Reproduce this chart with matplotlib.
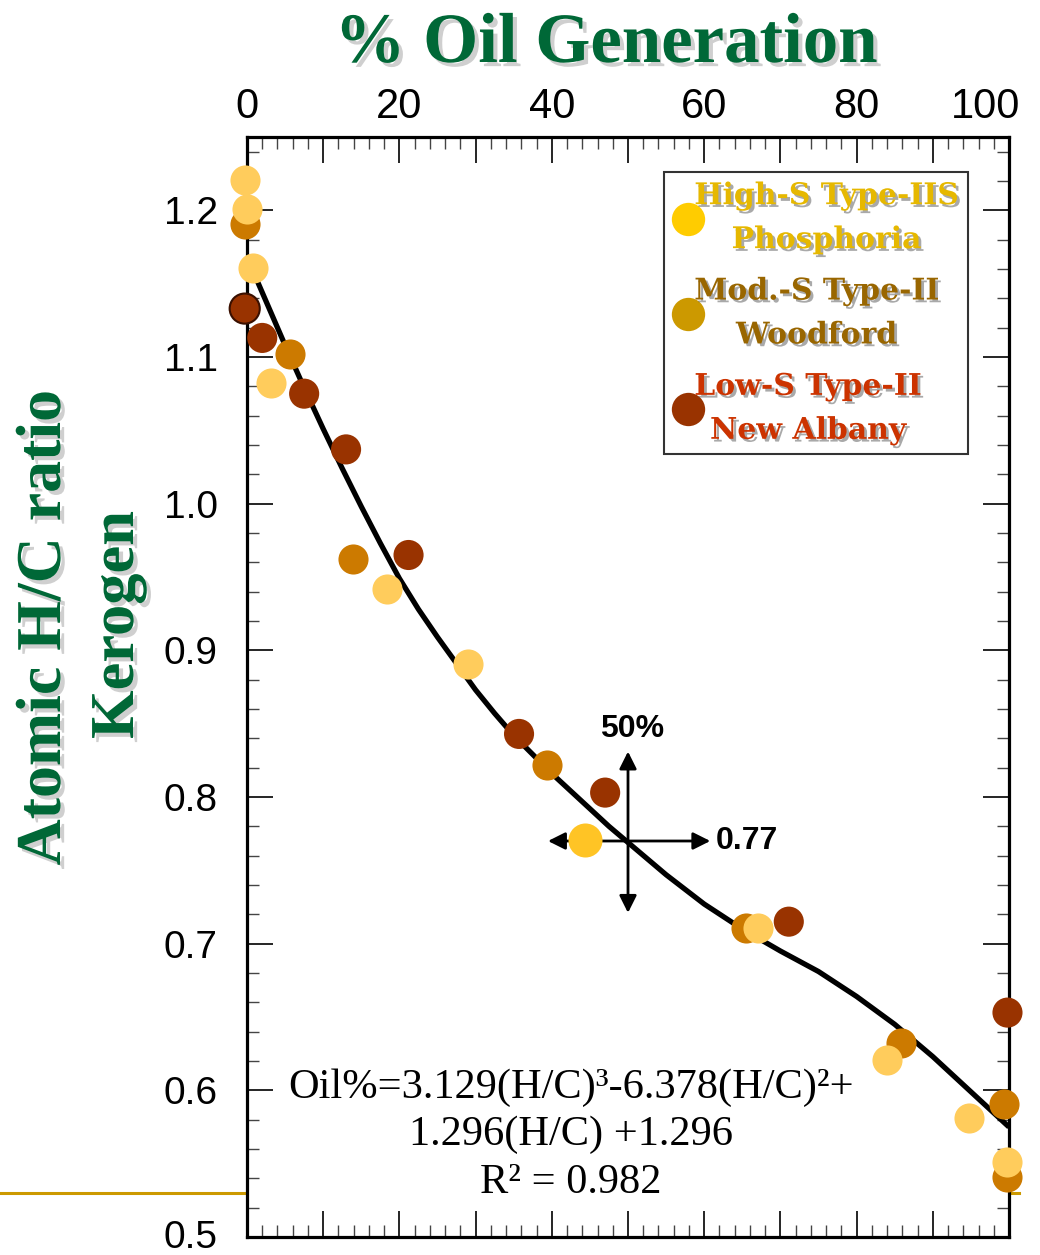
import numpy as np
import matplotlib
matplotlib.use("Agg")
import matplotlib.pyplot as plt
import matplotlib.patheffects as pe
import matplotlib.transforms as mtransforms
from matplotlib.lines import Line2D

# data: % oil generation vs kerogen atomic H/C
phos_x = [-0.3, 0.0, 0.75, 3.2, 18.4, 29.0, 67.1, 84.0, 94.7, 99.8]
phos_y = [1.221, 1.201, 1.161, 1.082, 0.942, 0.891, 0.711, 0.621, 0.581, 0.551]

wood_x = [-0.3, 5.7, 13.95, 39.4, 65.5, 85.8, 99.3, 99.8]
wood_y = [1.191, 1.102, 0.962, 0.822, 0.711, 0.632, 0.591, 0.541]

na_x = [-0.3, 2.0, 7.5, 13.0, 21.2, 35.7, 47.0, 71.1, 99.8]
na_y = [1.133, 1.113, 1.075, 1.037, 0.965, 0.843, 0.803, 0.715, 0.653]

hl_x = [44.4]
hl_y = [0.771]

# fitted curve
curve_x = [0, 2.5, 5, 7.5, 10, 12.5, 15, 17.5, 20, 22.5, 25, 27.5, 30, 32.5, 35,
           37.5, 40, 42.5, 45, 47.5, 50, 55, 60, 65, 70, 75, 80, 85, 90, 95, 100]
curve_y = [1.168, 1.138, 1.108, 1.079, 1.051, 1.024, 0.998, 0.973, 0.949, 0.928,
           0.909, 0.891, 0.873, 0.857, 0.842, 0.829, 0.816, 0.804, 0.792, 0.780,
           0.769, 0.747, 0.727, 0.710, 0.695, 0.681, 0.664, 0.645, 0.623, 0.599,
           0.575]

mid_x = 50
mid_y = 0.77

green = '#006837'
serif = ['Liberation Serif', 'DejaVu Serif']
sans = ['Liberation Sans', 'DejaVu Sans']

fig = plt.figure(figsize=(10.4, 12.55), dpi=100)
ax = fig.add_axes([0.2375, 0.01434, 0.7327, 0.8765])

# gold slide line behind the axes
fig.add_artist(Line2D([0, 0.98], [0.0494, 0.0494], color='#CC9900', lw=2.2,
                      transform=fig.transFigure, zorder=-1))

ax.plot(curve_x, curve_y, color='black', lw=3.8, zorder=3,
        solid_joinstyle='round', solid_capstyle='butt')

# 50% / 0.77 cross
for tip in [(mid_x, 0.831), (mid_x, 0.721), (39.5, mid_y), (60.8, mid_y)]:
    ax.annotate('', xy=tip, xytext=(mid_x, mid_y),
                arrowprops=dict(arrowstyle='-|>', color='black', lw=2,
                                mutation_scale=26, shrinkA=0, shrinkB=0),
                zorder=2)
ax.text(50.5, 0.836, '50%', fontsize=23, fontweight='bold', family=sans,
        ha='center', va='bottom')
ax.text(61.5, mid_y, '0.77', fontsize=23, fontweight='bold', family=sans,
        ha='left', va='center')

s = 470
edge = np.where(np.array(na_x) < 0, 1.5, 0)
ax.scatter(na_x, na_y, s=s, color='#993300', edgecolors='#3a1000',
           linewidths=edge, zorder=4, clip_on=False)
ax.scatter(wood_x, wood_y, s=s, color='#CC7A00', linewidths=0, zorder=5,
           clip_on=False)
ax.scatter(phos_x, phos_y, s=s, color='#FFCC5C', linewidths=0, zorder=6,
           clip_on=False)
ax.scatter(hl_x, hl_y, s=600, color='#FFC425', linewidths=0, zorder=6,
           clip_on=False)

ax.set_xlim(0, 100)
ax.set_ylim(0.5, 1.25)

xt = list(range(0, 101, 10))
ax.set_xticks(xt, [str(v) if v % 20 == 0 else '' for v in xt])
ax.set_xticks(np.arange(0, 101, 2), minor=True)
yt = np.round(np.arange(0.5, 1.21, 0.1), 1)
ax.set_yticks(yt, ['%.1f' % v for v in yt])
ax.set_yticks(np.arange(0.5, 1.25, 0.02), minor=True)

ax.xaxis.tick_top()
ax.tick_params(which='both', direction='in', top=True, bottom=True,
               left=True, right=True, labeltop=True, labelbottom=False)
ax.tick_params(which='major', length=19, width=1.2)
ax.tick_params(which='minor', length=8.5, width=1.0, color='#444444')
ax.tick_params(axis='x', which='major', labelsize=30, pad=7)
ax.tick_params(axis='y', which='major', labelsize=28, pad=21)
for lab in ax.get_xticklabels() + ax.get_yticklabels():
    lab.set_family(sans)
for sp in ax.spines.values():
    sp.set_linewidth(2.3)

# the "100" label sits a little left of its tick in the original
last = ax.xaxis.get_major_ticks()[-1].label2
last.set_transform(last.get_transform() +
                   mtransforms.ScaledTranslation(-0.23, 0, fig.dpi_scale_trans))
# keep "0.5" inside the canvas
first = ax.yaxis.get_major_ticks()[0].label1
first.set_transform(first.get_transform() +
                    mtransforms.ScaledTranslation(0, 0.03, fig.dpi_scale_trans))

# equation
ax.text(42.5, 0.5695, 'Oil%=3.129(H/C)³-6.378(H/C)²+\n1.296(H/C) +1.296\nR² = 0.982',
        fontsize=30.5, family=serif, ha='center', va='center',
        multialignment='center', linespacing=1.3, zorder=7)

# legend
handles = [Line2D([], [], ls='none', marker='o', ms=24, mfc=c, mec='none')
           for c in ['#FFCC00', '#CC9900', '#993300']]
labels = ['High-S Type-IIS\nPhosphoria', 'Mod.-S Type-II\nWoodford',
          'Low-S Type-II\nNew Albany']
leg = ax.legend(handles, labels, loc='upper right', bbox_to_anchor=(0.946, 0.968),
                borderaxespad=0, frameon=True, fancybox=False, handlelength=1.0,
                handletextpad=-0.3, labelspacing=0.75, borderpad=0.3,
                prop={'family': 'DejaVu Serif', 'weight': 'bold', 'size': 21.5})
leg.get_frame().set_edgecolor('black')
leg.get_frame().set_linewidth(1.5)
leg.set_zorder(8)
shadow = [pe.SimplePatchShadow(offset=(2, -2), shadow_rgbFace='#555555', alpha=0.5),
          pe.Normal()]
for t, c in zip(leg.get_texts(), ['#E6B800', '#996600', '#CC3300']):
    t.set_color(c)
    t.set_multialignment('center')
    t.set_linespacing(1.65)
    t.set_path_effects(shadow)

# titles
fig.text(0.583, 0.9506, '% Oil Generation', fontsize=51, fontweight='bold',
         family=serif, color=green, ha='center', va='baseline',
         path_effects=[pe.SimplePatchShadow(offset=(3, -3), shadow_rgbFace='#888888',
                                            alpha=0.4), pe.Normal()])
ylab_fx = [pe.SimplePatchShadow(offset=(3, -3), shadow_rgbFace='#888888', alpha=0.4),
           pe.Normal()]
fig.text(45 / 1040, 1 - 628 / 1255, 'Atomic H/C ratio', fontsize=46, fontweight='bold',
         family=serif, color=green, rotation=90, ha='center', va='center',
         path_effects=ylab_fx)
fig.text(118 / 1040, 1 - 625 / 1255, 'Kerogen', fontsize=45, fontweight='bold',
         family=serif, color=green, rotation=90, ha='center', va='center',
         path_effects=ylab_fx)

fig.savefig('out.png', dpi=100)
